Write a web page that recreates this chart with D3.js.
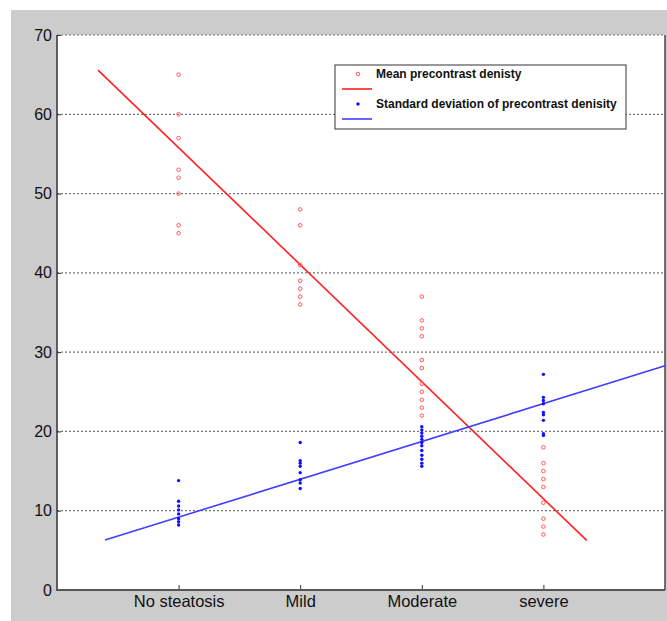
<!DOCTYPE html>
<html><head><meta charset="utf-8">
<script src="https://cdn.jsdelivr.net/npm/d3@7"></script>
<style>body{margin:0;background:#fff}svg{display:block}text{font-family:Arial,"Liberation Sans",sans-serif}</style>
</head><body><svg id="c" width="667" height="621"></svg>
<script>
const categories = ["No steatosis","Mild","Moderate","severe"];
const yTicks = [0,10,20,30,40,50,60,70];
const meanValues = [
  [65,60,57,53,52,50,46,45],
  [48,46,41,39,38,37,36],
  [37,34,33,32,29,28,26,25,24,23,22],
  [18,16,15,14,13,11,9,8,7]
];
const sdValues = [
  [13.8,11.2,10.6,10.1,9.6,9.0,8.6,8.2],
  [18.6,16.3,16.0,15.6,14.8,13.9,13.5,12.8],
  [20.6,20.2,19.8,19.4,19.0,18.6,18.2,17.6,17.0,16.5,16.0,15.6],
  [27.2,24.3,23.9,23.5,22.4,22.1,21.4,19.7,19.5]
];
// fit lines: [x0, x1] and intercept/slope
const meanFit = {x:[0.337,4.356], a:70.55, b:-14.76};
const sdFit = {x:[0.395,5.0], a:4.42, b:4.77};
const legendLabels = ["Mean precontrast denisty","Standard deviation of precontrast denisity"];

const svg = d3.select("#c");
svg.append("rect").attr("x",11).attr("y",10).attr("width",656).attr("height",611).attr("fill","#cccccc");
const L=57,R=665,T=35,B=590;
const x = d3.scaleLinear().domain([0,5]).range([L,R]);
const y = d3.scaleLinear().domain([0,70]).range([B,T]);
svg.append("rect").attr("x",L).attr("y",T).attr("width",R-L).attr("height",B-T).attr("fill","#fff");

// grid
svg.append("g").selectAll("line").data(yTicks.filter(d=>d>0)).join("line")
  .attr("x1",L).attr("x2",R).attr("y1",d=>y(d)).attr("y2",d=>y(d))
  .attr("stroke","#777").attr("stroke-width",1.2).attr("stroke-dasharray","2,2");

// axes
const ya = svg.append("g").attr("transform",`translate(${L},0)`)
  .call(d3.axisLeft(y).tickValues(yTicks).tickSize(-4).tickPadding(5));
ya.select(".domain").remove();
ya.selectAll("line").attr("stroke","#333");
ya.selectAll("text").attr("font-size",16).attr("fill","#111");
const xa = svg.append("g").attr("transform",`translate(0,${B})`)
  .call(d3.axisBottom(x).tickValues([1,2,3,4]).tickFormat(d=>categories[d-1]).tickSize(-5).tickPadding(5));
xa.select(".domain").remove();
xa.selectAll("line").attr("stroke","#333");
xa.selectAll("text").attr("font-size",16.5).attr("fill","#111").attr("dy","0.71em");

svg.append("line").attr("x1",L).attr("x2",L).attr("y1",T).attr("y2",B+1).attr("stroke","#333").attr("stroke-width",1.5);
svg.append("line").attr("x1",L).attr("x2",R).attr("y1",B).attr("y2",B).attr("stroke","#555").attr("stroke-width",2);
svg.append("line").attr("x1",R).attr("x2",R).attr("y1",T).attr("y2",B).attr("stroke","#444").attr("stroke-width",1.5);

// fit lines
const lineGen = f => f.x.map(v=>[x(v), y(f.a+f.b*v)]);
svg.append("path").attr("d",d3.line()(lineGen(meanFit))).attr("stroke","#ff2020").attr("stroke-width",1.6).attr("fill","none");
svg.append("path").attr("d",d3.line()(lineGen(sdFit))).attr("stroke","#4040ff").attr("stroke-width",1.6).attr("fill","none");

// points
meanValues.forEach((arr,i)=>{
  svg.append("g").selectAll("circle").data(arr).join("circle")
    .attr("cx",x(i+1)).attr("cy",d=>y(d)).attr("r",1.8)
    .attr("fill","none").attr("stroke","#ff5555").attr("stroke-width",1);
});
sdValues.forEach((arr,i)=>{
  svg.append("g").selectAll("circle").data(arr).join("circle")
    .attr("cx",x(i+1)).attr("cy",d=>y(d)).attr("r",1.7).attr("fill","#1010ff");
});

// legend
const lg = svg.append("g");
lg.append("rect").attr("x",335).attr("y",65).attr("width",291).attr("height",64)
  .attr("fill","#fff").attr("stroke","#555").attr("stroke-width",1.2);
lg.append("circle").attr("cx",358).attr("cy",74).attr("r",1.8).attr("fill","none").attr("stroke","#ff5555");
lg.append("line").attr("x1",342).attr("x2",372).attr("y1",89).attr("y2",89).attr("stroke","#ff2020").attr("stroke-width",1.6);
lg.append("circle").attr("cx",358).attr("cy",104).attr("r",1.7).attr("fill","#1010ff");
lg.append("line").attr("x1",342).attr("x2",372).attr("y1",119).attr("y2",119).attr("stroke","#4040ff").attr("stroke-width",1.6);
lg.selectAll("text.l").data(legendLabels).join("text").attr("class","l")
  .attr("x",376).attr("y",(d,i)=>78+i*30).attr("font-size",12).attr("font-weight","bold").attr("fill","#111").text(d=>d);
</script></body></html>
